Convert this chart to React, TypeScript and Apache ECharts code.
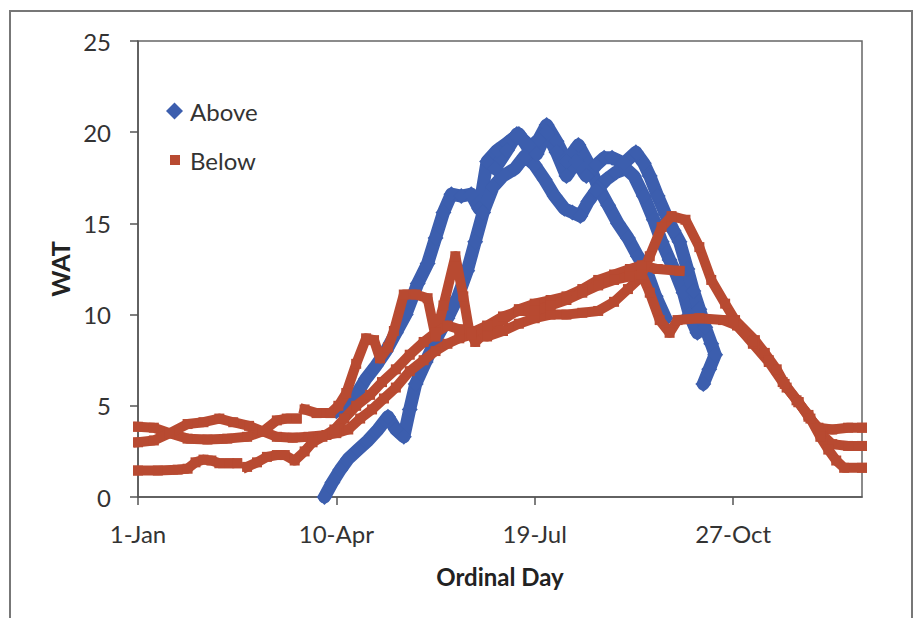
import React, { useEffect, useRef } from 'react';
import * as echarts from 'echarts';

// ---- tick labels ----
const xTickDays = [0, 100, 200, 300];
const xTickLabels = ['1-Jan', '10-Apr', '19-Jul', '27-Oct'];

// ---- "Above" traces: [day of year (0 = 1-Jan), WAT] ----
const aboveTraceA = [
  [100, 4.7], [105, 4.9], [110, 5.6], [115, 6.5], [120, 7.2], [125, 8.0], [130, 9.0], [135, 10.0],
  [141, 11.7], [146, 12.8], [150, 14.2], [154, 15.6], [158, 16.6], [163, 16.5], [168, 16.6], [172, 15.8],
  [176, 18.4], [181, 19.0], [186, 19.4], [192, 19.9], [197, 19.1], [202, 19.6], [206, 20.4], [211, 19.5],
  [216, 18.4], [222, 19.3], [227, 18.3], [232, 17.0], [237, 16.0], [242, 15.0], [247, 14.2], [252, 13.2],
  [256, 12.5], [261, 11.0], [266, 9.8],
];
const aboveTraceB = [
  [94, 0], [98, 0.8], [102, 1.5], [106, 2.1], [111, 2.6], [116, 3.1], [121, 3.7], [126, 4.4], [130, 3.7],
  [134, 3.3], [137, 4.8], [140, 6.2], [145, 7.4], [150, 8.6], [156, 9.8], [161, 10.9], [166, 12.4],
  [170, 14.0], [174, 15.6], [179, 17.0], [184, 17.6], [190, 18.0], [195, 18.7], [200, 18.2], [205, 17.4],
  [210, 16.5], [215, 15.8], [219, 15.6], [223, 15.4], [227, 16.2], [231, 16.8], [236, 17.4], [241, 17.8],
  [246, 18.0], [250, 17.6], [255, 16.5], [260, 15.2], [264, 14.0], [268, 13.0], [271, 12.3], [275, 11.2],
  [278, 10.0], [282, 9.0],
];
const aboveTraceC = [
  [180, 18.0], [186, 19.0], [191, 19.9], [196, 19.4], [201, 18.8], [206, 20.0], [211, 18.9], [216, 17.6],
  [221, 18.4], [226, 17.6], [231, 18.2], [235, 18.6], [239, 18.6], [245, 18.3], [251, 18.9], [255, 18.3],
  [258, 17.6], [262, 16.5], [266, 15.5], [270, 14.6], [273, 14.0], [277, 12.5], [280, 11.3], [283, 10.3],
  [286, 9.3], [289, 8.4], [291, 7.8], [288, 7.0], [285, 6.2],
];

// ---- "Below" traces ----
const belowTrace1a = [
  [0, 3.85], [8, 3.8], [16, 3.5], [25, 3.2], [35, 3.15], [45, 3.2], [55, 3.3], [63, 3.6], [70, 4.2],
  [75, 4.3], [80, 4.3],
];
const belowTrace1b = [
  [84, 4.8], [90, 4.6], [97, 4.6], [101, 5.0], [105, 5.7], [110, 7.3], [115, 8.7], [119, 8.6], [122, 7.6],
  [126, 8.2], [129, 9.1], [134, 11.1], [140, 11.1], [146, 10.9], [150, 8.8], [154, 10.5], [160, 13.2],
  [164, 11.0], [167, 9.1], [170, 8.5], [176, 9.1], [184, 9.7], [192, 10.3], [200, 10.6], [208, 10.8],
  [216, 11.0], [224, 11.4], [232, 11.9], [240, 12.2], [248, 12.5], [254, 12.7], [262, 12.5], [273, 12.4],
];
const belowTrace2 = [
  [0, 3.0], [8, 3.1], [16, 3.5], [25, 4.0], [33, 4.1], [41, 4.3], [48, 4.1], [56, 3.9], [63, 3.6],
  [70, 3.3], [78, 3.25], [86, 3.3], [95, 3.4], [100, 3.5], [106, 3.7], [112, 4.3], [118, 4.8], [124, 5.4],
  [130, 6.0], [137, 6.9], [144, 7.5], [150, 8.0], [156, 8.4], [162, 8.7], [168, 8.9], [176, 8.8],
  [184, 9.1], [192, 9.5], [200, 9.8], [208, 10.0], [216, 10.0], [224, 10.1], [232, 10.2], [240, 10.7],
  [247, 11.4], [253, 12.0], [258, 13.2], [264, 14.8], [269, 15.4], [276, 15.2], [283, 13.7], [289, 11.9],
  [296, 10.6], [301, 9.7], [311, 8.6], [316, 7.9], [322, 7.0], [327, 6.0], [333, 5.2], [338, 4.4],
  [343, 3.8], [350, 3.7], [358, 3.8], [365, 3.8],
];
const belowTrace3a = [
  [0, 1.45], [10, 1.45], [20, 1.5], [25, 1.55], [29, 1.9], [33, 2.05], [37, 2.0], [41, 1.85], [46, 1.85],
  [50, 1.85],
];
const belowTrace3b = [
  [55, 1.65], [60, 1.9], [65, 2.2], [70, 2.3], [74, 2.3], [79, 2.0], [84, 2.5], [88, 3.0], [93, 3.3],
  [99, 3.7], [104, 4.3], [110, 5.0], [117, 5.6], [123, 6.3], [130, 7.0], [137, 7.8], [144, 8.5],
  [150, 9.0], [156, 9.4], [162, 9.2], [168, 9.0], [176, 9.4], [184, 9.9], [192, 10.2], [200, 10.2],
  [208, 10.5], [216, 10.8], [224, 11.2], [232, 11.6], [240, 11.9], [248, 12.1], [254, 12.2], [258, 11.2],
  [263, 9.7], [268, 9.0], [272, 9.7], [283, 9.8], [295, 9.7], [302, 9.4], [310, 8.4], [318, 7.4],
  [325, 6.3], [332, 5.3], [338, 4.5], [344, 3.5], [350, 2.9], [358, 2.8], [365, 2.8],
];
const belowTrace4 = [
  [300, 9.6], [310, 8.5], [318, 7.5], [326, 6.2], [333, 5.2], [339, 4.3], [344, 3.3], [348, 2.6],
  [352, 2.0], [356, 1.6], [365, 1.6],
];

const BLUE = '#3C5EAE';
const RED = '#B84A31';
const FONT = 'Lato, "Open Sans", sans-serif';

export default function App() {
  const ref = useRef<HTMLDivElement>(null);

  useEffect(() => {
    if (!ref.current) return;
    const chart = echarts.init(ref.current, null, { renderer: 'svg' });

    const above = (data: number[][]) => ({
      type: 'line',
      name: 'Above',
      data,
      symbol: 'diamond',
      symbolSize: 16,
      showSymbol: true,
      showAllSymbol: true,
      itemStyle: { color: BLUE },
      lineStyle: { color: BLUE, width: 13, join: 'round', cap: 'round' },
      z: 2,
      silent: true,
    });
    const below = (data: number[][]) => ({
      type: 'line',
      name: 'Below',
      data,
      symbol: 'rect',
      symbolSize: 10,
      showSymbol: true,
      showAllSymbol: true,
      itemStyle: { color: RED },
      lineStyle: { color: RED, width: 10, join: 'round', cap: 'square' },
      z: 3,
      silent: true,
    });

    const labelStyle = { fontSize: 24, fontFamily: FONT, color: '#333' };
    const legendText = { fontSize: 24, fontFamily: FONT, color: '#333', lineHeight: 28 };

    chart.setOption({
      animation: false,
      backgroundColor: '#ffffff',
      grid: {
        left: 138,
        right: 57,
        top: 41,
        bottom: 121,
        show: true,
        borderColor: '#666',
        borderWidth: 1.5,
        backgroundColor: 'transparent',
      },
      graphic: [
        {
          type: 'rect',
          shape: { x: 10, y: 11, width: 902, height: 640 },
          style: { fill: 'none', stroke: '#777', lineWidth: 2 },
          silent: true,
          z: -10,
        },
      ],
      legend: [
        {
          data: [{ name: 'Above', icon: 'diamond' }],
          left: 166,
          top: 97,
          padding: 0,
          itemWidth: 17,
          itemHeight: 17,
          selectedMode: false,
          textStyle: { ...legendText, padding: [0, 0, 0, 2] },
        },
        {
          data: [{ name: 'Below', icon: 'rect' }],
          left: 170,
          top: 146,
          padding: 0,
          itemWidth: 10,
          itemHeight: 10,
          selectedMode: false,
          textStyle: { ...legendText, padding: [0, 0, 0, 5] },
        },
      ],
      xAxis: {
        type: 'value',
        min: 0,
        max: 365,
        interval: 100,
        axisLine: { show: true, onZero: false, lineStyle: { color: '#555', width: 1.5 } },
        axisTick: { show: true, customValues: xTickDays, length: 8, lineStyle: { color: '#555', width: 1.5 } },
        axisLabel: {
          ...labelStyle,
          margin: 24,
          customValues: xTickDays,
          formatter: (v: number) => {
            const i = xTickDays.indexOf(Math.round(v));
            return i >= 0 ? xTickLabels[i] : '';
          },
        },
        splitLine: { show: false },
        name: 'Ordinal Day',
        nameLocation: 'middle',
        nameGap: 67,
        nameTextStyle: { fontSize: 24, fontWeight: 'bold', fontFamily: FONT, color: '#222' },
      },
      yAxis: {
        type: 'value',
        min: 0,
        max: 25,
        interval: 5,
        axisLine: { show: true, onZero: false, lineStyle: { color: '#555', width: 1.5 } },
        axisTick: { show: true, length: 8, lineStyle: { color: '#555', width: 1.5 } },
        axisLabel: { ...labelStyle, margin: 27 },
        splitLine: { show: false },
        name: 'WAT',
        nameLocation: 'middle',
        nameGap: 63,
        nameTextStyle: { fontSize: 25, fontWeight: 'bold', fontFamily: FONT, color: '#222' },
      },
      series: [
        above(aboveTraceA),
        above(aboveTraceB),
        above(aboveTraceC),
        below(belowTrace1a),
        below(belowTrace1b),
        below(belowTrace2),
        below(belowTrace3a),
        below(belowTrace3b),
        below(belowTrace4),
      ],
    });

    return () => chart.dispose();
  }, []);

  return (
    <div
      ref={ref}
      style={{ position: 'absolute', left: 0, top: 0, width: 919, height: 618, background: '#fff' }}
    />
  );
}
